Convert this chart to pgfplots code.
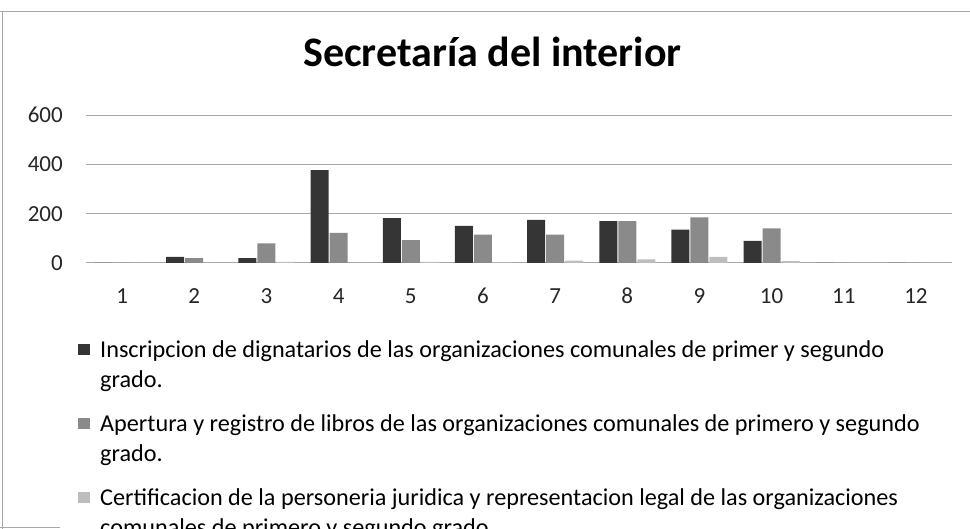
\documentclass[border=0pt]{standalone}
\usepackage{fontspec}
\setmainfont{Carlito}
\usepackage{pgfplots}
\pgfplotsset{compat=1.18}
\definecolor{sdark}{HTML}{353535}
\definecolor{smid}{HTML}{8A8A8A}
\definecolor{slight}{HTML}{BDBDBD}
\definecolor{sgrid}{HTML}{A8A8A8}
\begin{document}
\begin{tikzpicture}[x=1pt,y=1pt]
\useasboundingbox (-86,-266) rectangle (884,263);
\begin{axis}[
 at={(0,0)}, anchor=south west,
 scale only axis, width=866pt, height=148pt,
 ybar=1pt, bar width=18pt,
 xmin=0.5, xmax=12.5, ymin=0, ymax=600,
 xtick={1,...,12}, ytick={0,200,400,600},
 major tick length=0pt,
 axis line style={draw=none},
 ymajorgrids, grid style={sgrid, line width=1pt},
 /pgf/number format/assume math mode=true,
 tick label style={font=\fontsize{23}{27}\selectfont, text=black!85},
 xticklabel style={anchor=base, yshift=-40.5pt},
 yticklabel style={anchor=east, inner sep=0pt, xshift=-23pt},
 title={Secretaría del interior},
 title style={at={(0.4694,1.284)}, anchor=base, font=\bfseries\fontsize{42}{48}\selectfont},
 legend style={at={(axis description cs:-0.0092,-0.510)}, anchor=north west, draw=none, fill=none, inner sep=0pt, row sep=51.5pt, column sep=8pt, font=\fontsize{24.2}{30}\selectfont, cells={anchor=base west, inner sep=0pt}},
]
\addplot[fill=sdark, draw=none, legend image code/.code={\fill[sdark] (0pt,2pt) rectangle (12pt,13pt);}] coordinates {
 (1,0) (2,25) (3,20) (4,377) (5,182) (6,150) (7,175) (8,170) (9,135) (10,90) (11,0) (12,0)};
\addlegendentry{\vtop{\hbox{Inscripcion de dignatarios de las organizaciones comunales de primer y segundo}\hbox{grado.}}}
\addplot[fill=smid, draw=none, legend image code/.code={\fill[smid] (0pt,2pt) rectangle (12pt,13pt);}] coordinates {
 (1,0) (2,20) (3,80) (4,122) (5,93) (6,115) (7,115) (8,170) (9,185) (10,140) (11,0) (12,0)};
\addlegendentry{\vtop{\hbox{Apertura y registro de libros de las organizaciones comunales de primero y segundo}\hbox{grado.}}}
\addplot[fill=slight, draw=none, legend image code/.code={\fill[slight] (0pt,2pt) rectangle (12pt,13pt);}] coordinates {
 (1,0) (2,0) (3,5) (4,0) (5,5) (6,3) (7,10) (8,15) (9,25) (10,8) (11,0) (12,0)};
\addlegendentry{\vtop{\hbox{Certificacion de la personeria juridica y representacion legal de las organizaciones}\hbox{comunales de primero y segundo grado.}}}
\end{axis}
\draw[sgrid, line width=1pt] (-86,251) -- (884,251);
\draw[sgrid, line width=1pt] (-83,251) -- (-83,-266);
\draw[sgrid, line width=1pt] (-86,-264.5) -- (-26,-264.5);
\end{tikzpicture}
\end{document}
